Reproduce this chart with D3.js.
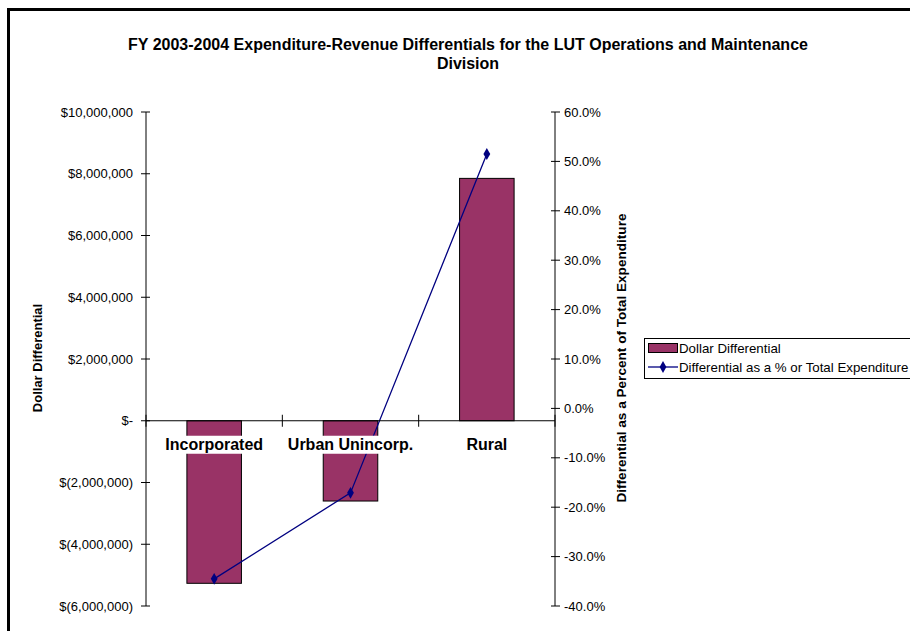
<!DOCTYPE html>
<html>
<head>
<meta charset="utf-8">
<script src="https://cdn.jsdelivr.net/npm/d3@7"></script>
<style>
  body { margin: 0; background: #fff; }
  svg { display: block; font-family: "Liberation Sans", Arial, sans-serif; }
</style>
</head>
<body>
<div id="chart"></div>
<script>
var categories = ["Incorporated", "Urban Unincorp.", "Rural"];
var dollarDiff = [-5265000, -2600000, 7850000];
var pctDiff    = [-0.345, -0.171, 0.515];
var dollarTicks = [-6000000, -4000000, -2000000, 0, 2000000, 4000000, 6000000, 8000000, 10000000];
var pctTicks = [-0.4, -0.3, -0.2, -0.1, 0, 0.1, 0.2, 0.3, 0.4, 0.5, 0.6];
var titleLines = ["FY 2003-2004 Expenditure-Revenue Differentials for the LUT Operations and Maintenance", "Division"];

var W = 910, H = 631;
var plot = {left: 146, right: 555, top: 112, bottom: 606};

var svg = d3.select("#chart").append("svg")
    .attr("width", W).attr("height", H);

// outer chart frame
svg.append("rect")
    .attr("x", 8.5).attr("y", 9.5)
    .attr("width", 940).attr("height", 660)
    .attr("fill", "#fff").attr("stroke", "#000").attr("stroke-width", 3);

var x = d3.scaleBand().domain(categories)
    .range([plot.left, plot.right])
    .paddingInner(0.6).paddingOuter(0.3);
var step = (plot.right - plot.left) / categories.length;

var yL = d3.scaleLinear().domain([-6000000, 10000000]).range([plot.bottom, plot.top]);
var yR = d3.scaleLinear().domain([-0.4, 0.6]).range([plot.bottom, plot.top]);

function fmtDollar(v) {
  if (v === 0) return "$-";
  var s = d3.format(",")(Math.abs(v));
  return v < 0 ? "$(" + s + ")" : "$" + s;
}
function fmtPct(v) { return (v * 100).toFixed(1) + "%"; }

// title
svg.append("g").selectAll("text").data(titleLines).join("text")
    .attr("x", 468).attr("y", function(d, i) { return 50 + i * 19; })
    .attr("text-anchor", "middle")
    .attr("font-size", 16).attr("font-weight", "bold")
    .text(function(d) { return d; });

// bars
svg.append("g").selectAll("rect").data(categories).join("rect")
    .attr("x", function(d) { return x(d); })
    .attr("width", x.bandwidth())
    .attr("y", function(d, i) { return yL(Math.max(0, dollarDiff[i])); })
    .attr("height", function(d, i) { return Math.abs(yL(dollarDiff[i]) - yL(0)); })
    .attr("fill", "#993366").attr("stroke", "#000").attr("stroke-width", 1);

// line series
var line = d3.line()
    .x(function(d, i) { return x(categories[i]) + x.bandwidth() / 2; })
    .y(function(d) { return yR(d); });
svg.append("path").datum(pctDiff)
    .attr("d", line).attr("fill", "none")
    .attr("stroke", "#000080").attr("stroke-width", 1.3);

var diamond = d3.symbol().type(d3.symbolDiamond).size(40);
svg.append("g").selectAll("path").data(pctDiff).join("path")
    .attr("d", diamond)
    .attr("transform", function(d, i) {
      return "translate(" + (x(categories[i]) + x.bandwidth() / 2) + "," + yR(d) + ")";
    })
    .attr("fill", "#000080");

// left axis
var gL = svg.append("g").attr("transform", "translate(" + plot.left + ",0)");
gL.append("line").attr("y1", plot.top).attr("y2", plot.bottom).attr("stroke", "#000");
gL.selectAll("line.t").data(dollarTicks).join("line").attr("class", "t")
    .attr("x1", -5).attr("x2", 4)
    .attr("y1", function(d) { return yL(d); }).attr("y2", function(d) { return yL(d); })
    .attr("stroke", "#000");
gL.selectAll("text").data(dollarTicks).join("text")
    .attr("x", -13).attr("y", function(d) { return yL(d); })
    .attr("dy", "0.35em").attr("text-anchor", "end")
    .attr("font-size", 13)
    .text(fmtDollar);

// right axis
var gR = svg.append("g").attr("transform", "translate(" + plot.right + ",0)");
gR.append("line").attr("y1", plot.top).attr("y2", plot.bottom).attr("stroke", "#000");
gR.selectAll("line.t").data(pctTicks).join("line").attr("class", "t")
    .attr("x1", -4).attr("x2", 5)
    .attr("y1", function(d) { return yR(d); }).attr("y2", function(d) { return yR(d); })
    .attr("stroke", "#000");
gR.selectAll("text").data(pctTicks).join("text")
    .attr("x", 9).attr("y", function(d) { return yR(d); })
    .attr("dy", "0.35em").attr("text-anchor", "start")
    .attr("font-size", 13)
    .text(fmtPct);

// category axis at zero
var y0 = yL(0);
svg.append("line")
    .attr("x1", plot.left).attr("x2", plot.right)
    .attr("y1", y0).attr("y2", y0).attr("stroke", "#000");
var bounds = d3.range(categories.length + 1).map(function(i) { return plot.left + i * step; });
svg.append("g").selectAll("line").data(bounds).join("line")
    .attr("x1", function(d) { return d; }).attr("x2", function(d) { return d; })
    .attr("y1", y0 - 6).attr("y2", y0 + 6)
    .attr("stroke", "#000");

var catG = svg.append("g").selectAll("g").data(categories).join("g")
    .attr("transform", function(d) { return "translate(" + (x(d) + x.bandwidth() / 2) + "," + (y0 + 29) + ")"; });
var catText = catG.append("text")
    .attr("text-anchor", "middle")
    .attr("font-size", 16).attr("font-weight", "bold")
    .text(function(d) { return d; });
catText.each(function() {
  var b = this.getBBox();
  d3.select(this.parentNode).insert("rect", "text")
      .attr("x", b.x - 2).attr("y", b.y)
      .attr("width", b.width + 4).attr("height", b.height + 1)
      .attr("fill", "#fff");
});

// axis titles
svg.append("text")
    .attr("transform", "translate(42,358) rotate(-90)")
    .attr("text-anchor", "middle")
    .attr("font-size", 13).attr("font-weight", "bold")
    .text("Dollar Differential");
svg.append("text")
    .attr("transform", "translate(626,358) rotate(-90)")
    .attr("text-anchor", "middle")
    .attr("font-size", 13.6).attr("font-weight", "bold")
    .text("Differential as a Percent of Total Expenditure");

// legend
var lg = svg.append("g").attr("transform", "translate(644,338)");
lg.append("rect")
    .attr("x", 0.5).attr("y", 0.5).attr("width", 300).attr("height", 40)
    .attr("fill", "#fff").attr("stroke", "#000");
lg.append("rect")
    .attr("x", 4.5).attr("y", 5.5).attr("width", 29).attr("height", 9)
    .attr("fill", "#993366").attr("stroke", "#000");
lg.append("text").attr("x", 35).attr("y", 10).attr("dy", "0.35em")
    .attr("font-size", 13.3).text("Dollar Differential");
lg.append("line").attr("x1", 4).attr("x2", 34).attr("y1", 29).attr("y2", 29)
    .attr("stroke", "#000080").attr("stroke-width", 1.3);
lg.append("path").attr("d", diamond).attr("transform", "translate(19,29)")
    .attr("fill", "#000080");
lg.append("text").attr("x", 35).attr("y", 29).attr("dy", "0.35em")
    .attr("font-size", 13.3).text("Differential as a % or Total Expenditure");
</script>
</body>
</html>
